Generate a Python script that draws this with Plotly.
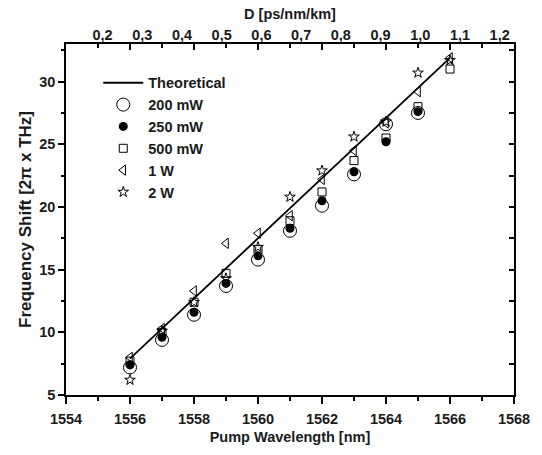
import plotly.graph_objects as go

wl = [1556, 1557, 1558, 1559, 1560, 1561, 1562, 1563, 1564, 1565, 1566]
theory_x = [1556, 1566]
theory_y = [7.9, 31.9]
p200 = [7.2, 9.4, 11.4, 13.7, 15.8, 18.1, 20.1, 22.6, 26.6, 27.5]
p250 = [7.4, 9.6, 11.6, 13.9, 16.1, 18.3, 20.5, 22.8, 25.2, 27.6]
p500 = [7.7, 10.0, 12.4, 14.7, 16.6, 18.9, 21.2, 23.7, 25.5, 28.0, 31.0]
p1w = [8.0, 10.3, 13.3, 17.1, 17.9, 19.3, 22.2, 24.5, 26.7, 29.2, 31.9]
p2w = [6.2, 10.1, 12.4, 14.3, 16.8, 20.8, 22.9, 25.6, 26.8, 30.7, 31.7]

x_ticks = [1554, 1556, 1558, 1560, 1562, 1564, 1566, 1568]
y_ticks = [5, 10, 15, 20, 25, 30]
d_vals = [0.2, 0.3, 0.4, 0.5, 0.6, 0.7, 0.8, 0.9, 1.0, 1.1, 1.2]
d_text = ["0,2", "0,3", "0,4", "0,5", "0,6", "0,7", "0,8", "0,9", "1,0", "1,1", "1,2"]

FONT = "Liberation Sans, Arial, sans-serif"
TXT = "#1a1a1a"


def b(s):
    return "<b>%s</b>" % s


fig = go.Figure()
fig.add_trace(go.Scatter(x=theory_x, y=theory_y, mode="lines", name=b("Theoretical"),
                         line=dict(color="black", width=1.8), legendgroup="a"))
fig.add_trace(go.Scatter(x=wl[:len(p200)], y=p200, mode="markers", name=b("200 mW"), legendgroup="b",
                         marker=dict(symbol="circle-open", size=13, color="black", line=dict(width=1))))
fig.add_trace(go.Scatter(x=wl[:len(p250)], y=p250, mode="markers", name=b("250 mW"), legendgroup="c",
                         marker=dict(symbol="circle", size=9, color="black")))
fig.add_trace(go.Scatter(x=wl, y=p500, mode="markers", name=b("500 mW"), legendgroup="d",
                         marker=dict(symbol="square-open", size=8, color="black", line=dict(width=1))))
fig.add_trace(go.Scatter(x=wl, y=p1w, mode="markers", name=b("1 W"), legendgroup="e",
                         marker=dict(symbol="triangle-left-open", size=9, color="black", line=dict(width=1))))
fig.add_trace(go.Scatter(x=wl, y=p2w, mode="markers", name=b("2 W"), legendgroup="f",
                         marker=dict(symbol="star-open", size=8, color="black", line=dict(width=1))))
# helpers so the auxiliary axes are drawn
fig.add_trace(go.Scatter(x=[None], y=[None], xaxis="x2", yaxis="y", showlegend=False, hoverinfo="skip"))
fig.add_trace(go.Scatter(x=[None], y=[None], xaxis="x3", yaxis="y2", showlegend=False, hoverinfo="skip"))

tickfont = dict(family=FONT, size=14.5, color=TXT)
titlefont = dict(family=FONT, size=14.5, color=TXT)

fig.update_layout(
    width=542, height=455,
    margin=dict(l=66, r=24, t=44, b=52),
    paper_bgcolor="white", plot_bgcolor="white",
    font=dict(family=FONT, size=14.5, color=TXT),
    legend=dict(x=0.072, y=0.935, xanchor="left", yanchor="top", bgcolor="rgba(0,0,0,0)",
                font=dict(family=FONT, size=14.5, color=TXT), tracegroupgap=0,
                itemwidth=40),
    xaxis=dict(range=[1554, 1568], tickvals=x_ticks, ticktext=[b(v) for v in x_ticks],
               ticks="outside", ticklen=7, tickwidth=1.5, ticklabelstandoff=3,
               tickcolor="black", showline=True, linecolor="black", linewidth=1.5, showgrid=False,
               zeroline=False, tickfont=tickfont,
               minor=dict(dtick=1, tick0=1554, ticks="outside", ticklen=4, tickwidth=1.5, tickcolor="black"),
               title=dict(text=b("Pump Wavelength [nm]"), font=titlefont, standoff=6)),
    yaxis=dict(range=[5, 33], tickvals=y_ticks, ticktext=[b(v) for v in y_ticks],
               ticks="outside", ticklen=6, tickwidth=1.5,
               tickcolor="black", showline=True, linecolor="black", linewidth=1.5, showgrid=False,
               zeroline=False, tickfont=tickfont,
               minor=dict(dtick=2.5, tick0=5, ticks="outside", ticklen=3, tickwidth=1.5, tickcolor="black"),
               title=dict(text=b("Frequency Shift [2π x THz]"),
                          font=dict(family=FONT, size=17, color=TXT), standoff=3)),
    xaxis2=dict(overlaying="x", side="top", anchor="y", range=[0.108, 1.236],
                tickvals=d_vals, ticktext=[b(t) for t in d_text], ticks="", showline=False, showgrid=False,
                zeroline=False, tickfont=tickfont,
                title=dict(text=b("D [ps/nm/km]"), font=titlefont, standoff=4)),
    xaxis3=dict(overlaying="x", side="top", anchor="y2", range=[1554, 1568], tick0=1554, dtick=2,
                ticks="inside", ticklen=6, tickwidth=1.5, tickcolor="black", showticklabels=False,
                showline=True, linecolor="black", linewidth=1.5, showgrid=False, zeroline=False,
                minor=dict(dtick=1, ticks="inside", ticklen=4, tickwidth=1.5, tickcolor="black")),
    yaxis2=dict(overlaying="y", side="right", anchor="x3", range=[5, 33], tick0=5, dtick=5,
                ticks="inside", ticklen=5, tickwidth=1.5, tickcolor="black", showticklabels=False,
                showline=True, linecolor="black", linewidth=1.5, showgrid=False, zeroline=False,
                minor=dict(dtick=2.5, ticks="inside", ticklen=5, tickwidth=1.5, tickcolor="black")),
)

fig.write_html("out.html")
